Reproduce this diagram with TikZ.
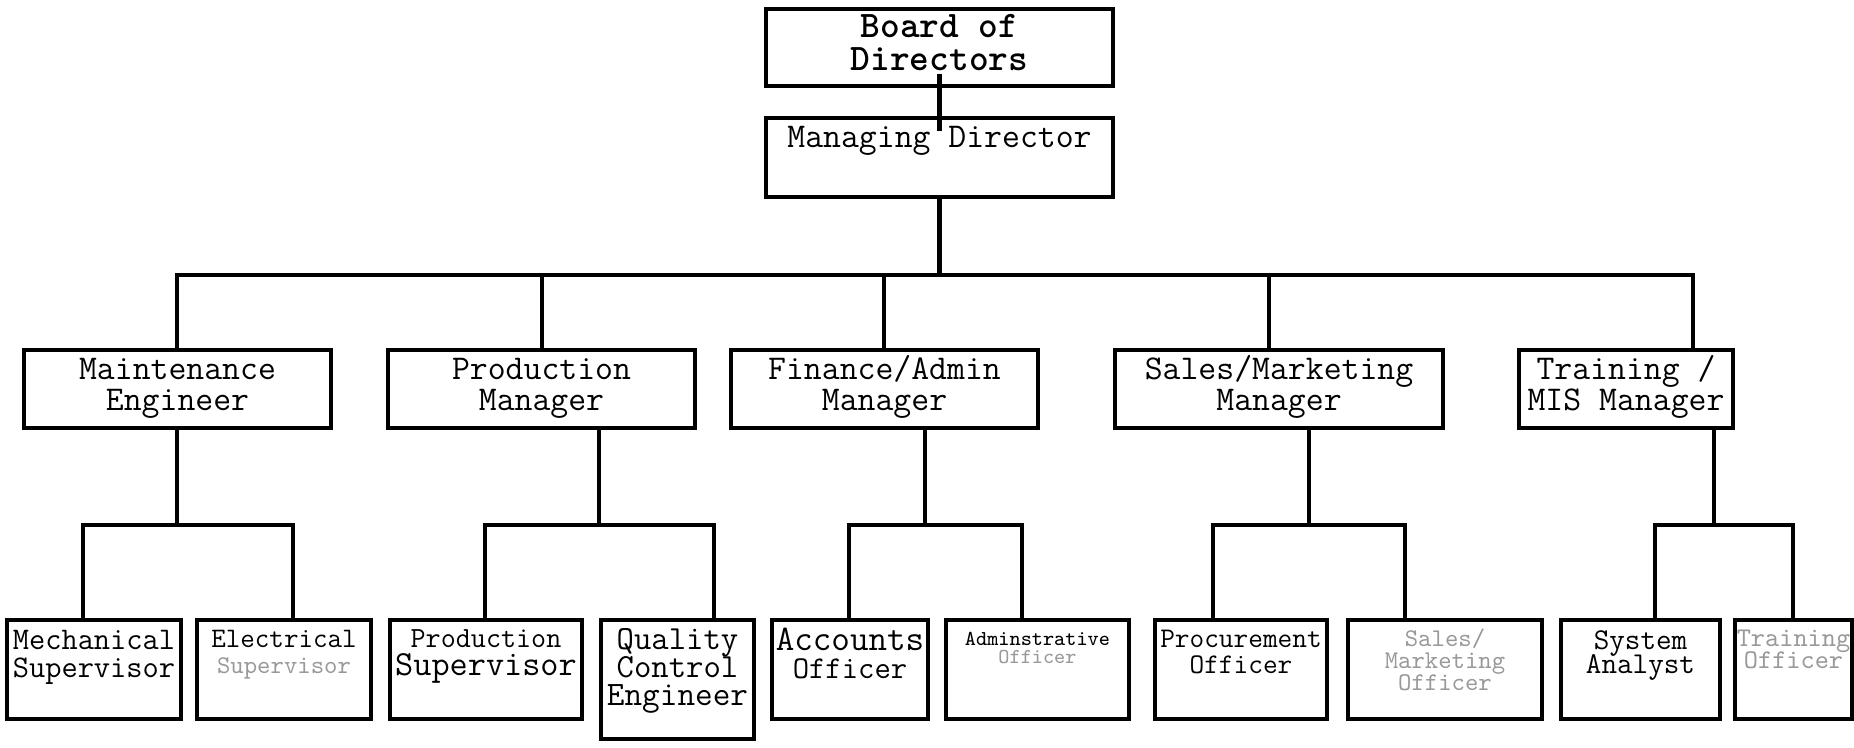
\documentclass[tikz,border=0pt]{standalone}
\usepackage{fontspec}
\newcommand\cour{\ttfamily}
\begin{document}
\begin{tikzpicture}[x=0.4pt,y=-0.4pt,
  box/.style={draw, line width=1.8pt, rectangle, inner sep=0pt},
  conn/.style={line width=1.7pt},
  txt/.style={anchor=mid, inner sep=0pt, font=\cour, yshift=-1.6pt},
  ltwo/.style={txt, font=\cour\fontsize{13.9}{15}\selectfont},
  faded/.style={text=black!40}]
\useasboundingbox (0,0) rectangle (1854,747);
% ---------- boxes ----------
\node[box, minimum width=138.8pt, minimum height=30.8pt] (bod) at (939.5,47.5) {};
\node[box, minimum width=138.8pt, minimum height=31.6pt] (md) at (939.5,157.5) {};
\node[box, minimum width=122.8pt, minimum height=31.2pt] (me) at (177.5,389) {};
\node[box, minimum width=122.8pt, minimum height=31.2pt] (pm) at (541.5,389) {};
\node[box, minimum width=122.8pt, minimum height=31.2pt] (fa) at (884.5,389) {};
\node[box, minimum width=131.2pt, minimum height=31.2pt] (sm) at (1279,389) {};
\node[box, minimum width=85.6pt, minimum height=31.2pt] (tm) at (1626,389) {};
\node[box, minimum width=69.6pt, minimum height=39.6pt] (mech) at (94,669.5) {};
\node[box, minimum width=69.6pt, minimum height=39.6pt] (elec) at (284,669.5) {};
\node[box, minimum width=76.8pt, minimum height=39.6pt] (ps) at (486,669.5) {};
\node[box, minimum width=61.2pt, minimum height=47.6pt] (qc) at (677.5,679.5) {};
\node[box, minimum width=62.4pt, minimum height=39.6pt] (acc) at (850,669.5) {};
\node[box, minimum width=73.2pt, minimum height=39.6pt] (adm) at (1037.5,669.5) {};
\node[box, minimum width=68.8pt, minimum height=39.6pt] (proc) at (1241,669.5) {};
\node[box, minimum width=77.6pt, minimum height=39.6pt] (smo) at (1445,669.5) {};
\node[box, minimum width=63.6pt, minimum height=39.6pt] (sa) at (1640.5,669.5) {};
\node[box, minimum width=46.8pt, minimum height=39.6pt] (to) at (1793.5,669.5) {};
% ---------- texts ----------
\node[txt, font=\cour\bfseries\fontsize{15}{16}\selectfont] (tbod1) at (939.5,28) {Board of};
\node[txt, font=\cour\bfseries\fontsize{15}{16}\selectfont] (tbod2) at (939.5,61) {Directors};
\node[ltwo] (tmd) at (939.5,138) {Managing Director};
\node[ltwo] (tme1) at (177.5,370) {Maintenance};
\node[ltwo] (tme2) at (177.5,401) {Engineer};
\node[ltwo] (tpm1) at (541.5,370) {Production};
\node[ltwo] (tpm2) at (541.5,401) {Manager};
\node[ltwo] (tfa1) at (884.5,370) {Finance/Admin};
\node[ltwo] (tfa2) at (884.5,401) {Manager};
\node[ltwo] (tsm1) at (1279,370) {Sales/Marketing};
\node[ltwo] (tsm2) at (1279,401) {Manager};
\node[ltwo] (ttm1) at (1626,370) {Training /};
\node[ltwo] (ttm2) at (1626,401) {MIS Manager};
\node[txt, font=\cour\fontsize{12.6}{13}\selectfont] (tmech1) at (94,640) {Mechanical};
\node[txt, font=\cour\fontsize{12.6}{13}\selectfont] (tmech2) at (94,668) {Supervisor};
\node[txt, font=\cour\fontsize{11.3}{12}\selectfont] (telec1) at (284,638) {Electrical};
\node[txt, faded, font=\cour\fontsize{10.2}{11}\selectfont] (telec2) at (284,664) {Supervisor};
\node[txt, font=\cour\fontsize{11.7}{12}\selectfont] (tps1) at (486,638) {Production};
\node[txt, font=\cour\fontsize{14.1}{15}\selectfont] (tps2) at (486,666) {Supervisor};
\node[txt, font=\cour\fontsize{13.5}{14}\selectfont] (tqc1) at (677.5,640) {Quality};
\node[txt, font=\cour\fontsize{13.5}{14}\selectfont] (tqc2) at (677.5,668) {Control};
\node[txt, font=\cour\fontsize{13.7}{14}\selectfont] (tqc3) at (677.5,696) {Engineer};
\node[txt, font=\cour\fontsize{14.4}{15}\selectfont] (tacc1) at (850,641) {Accounts};
\node[txt, font=\cour\fontsize{12.7}{13}\selectfont] (tacc2) at (850,669) {Officer};
\node[txt, font=\cour\fontsize{8.5}{9}\selectfont] (tadm1) at (1037.5,636) {Adminstrative};
\node[txt, faded, font=\cour\fontsize{8.5}{9}\selectfont] (tadm2) at (1037.5,654) {Officer};
\node[txt, font=\cour\fontsize{11.4}{12}\selectfont] (tproc1) at (1241,638) {Procurement};
\node[txt, font=\cour\fontsize{11.4}{12}\selectfont] (tproc2) at (1241,664) {Officer};
\node[txt, faded, font=\cour\fontsize{10.2}{11}\selectfont] (tsmo1) at (1445,637) {Sales/};
\node[txt, faded, font=\cour\fontsize{10.2}{11}\selectfont] (tsmo2) at (1445,659) {Marketing};
\node[txt, faded, font=\cour\fontsize{10.2}{11}\selectfont] (tsmo3) at (1445,681) {Officer};
\node[txt, font=\cour\fontsize{12.1}{13}\selectfont] (tsa1) at (1640.5,640) {System};
\node[txt, font=\cour\fontsize{12.1}{13}\selectfont] (tsa2) at (1640.5,664) {Analyst};
\node[txt, faded, font=\cour\fontsize{10.8}{11}\selectfont] (tto1) at (1793.5,637) {Training};
\node[txt, faded, font=\cour\fontsize{10.8}{11}\selectfont] (tto2) at (1793.5,659) {Officer};
% ---------- connectors ----------
\draw[conn] ([yshift=5.6pt]bod.south) -- ([yshift=-6pt]md.north);
\coordinate (b1) at (177,275);
\coordinate (b2) at (542,275);
\coordinate (b3) at (884,275);
\coordinate (b4) at (1269,275);
\coordinate (b5) at (1693,275);
\draw[conn] (md.south) -- (md.south |- b1);
\draw[conn] (me.north -| b1) -- (b1) -- (b5) -- (tm.north -| b5);
\draw[conn] (b2) -- (pm.north -| b2);
\draw[conn] (b3) -- (fa.north -| b3);
\draw[conn] (b4) -- (sm.north -| b4);
% sub forks
\coordinate (m1) at (83,525);   \coordinate (m2) at (293,525);
\coordinate (p1) at (485,525);  \coordinate (p2) at (714,525);
\coordinate (f1) at (849,525);  \coordinate (f2) at (1022,525);
\coordinate (s1) at (1213,525); \coordinate (s2) at (1405,525);
\coordinate (r1) at (1655,525); \coordinate (r2) at (1793,525);
\coordinate (mx) at (177,0);
\coordinate (px) at (599,0);
\coordinate (fx) at (925,0);
\coordinate (sx) at (1309,0);
\coordinate (rx) at (1714,0);
\draw[conn] (me.south -| mx) -- (m1 -| mx);
\draw[conn] (mech.north -| m1) -- (m1) -- (m2) -- (elec.north -| m2);
\draw[conn] (pm.south -| px) -- (p1 -| px);
\draw[conn] (ps.north -| p1) -- (p1) -- (p2) -- (qc.north -| p2);
\draw[conn] (fa.south -| fx) -- (f1 -| fx);
\draw[conn] (acc.north -| f1) -- (f1) -- (f2) -- (adm.north -| f2);
\draw[conn] (sm.south -| sx) -- (s1 -| sx);
\draw[conn] (proc.north -| s1) -- (s1) -- (s2) -- (smo.north -| s2);
\draw[conn] (tm.south -| rx) -- (r1 -| rx);
\draw[conn] (sa.north -| r1) -- (r1) -- (r2) -- (to.north -| r2);
\end{tikzpicture}
\end{document}
